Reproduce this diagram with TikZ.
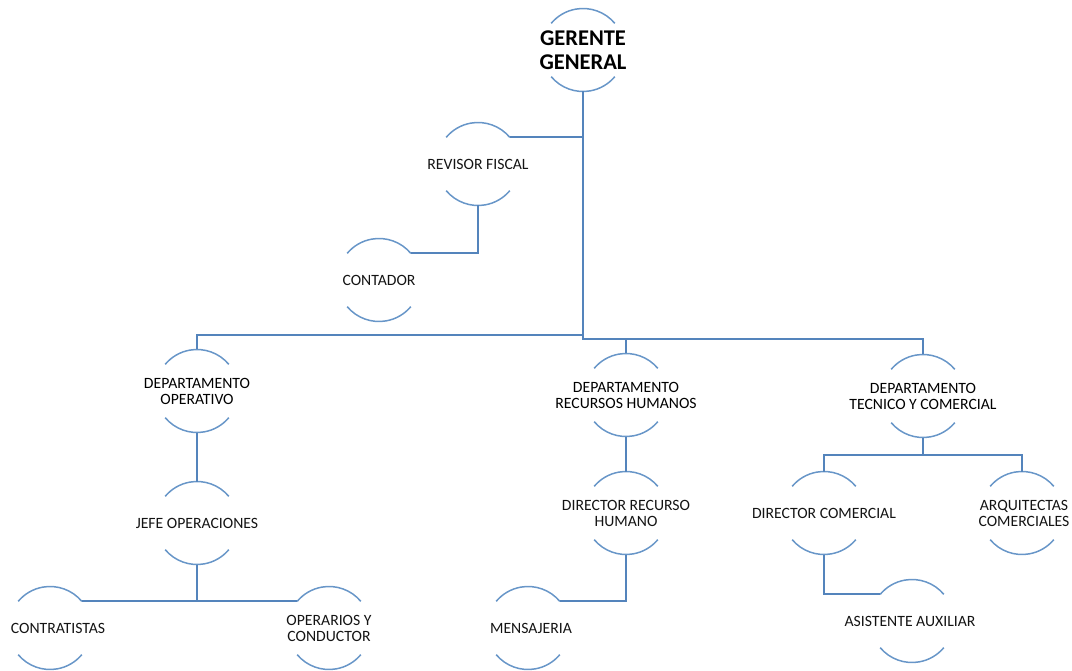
\documentclass[tikz,border=0pt]{standalone}
\usepackage{fontspec}
\setmainfont{Carlito}
\begin{document}
\begin{tikzpicture}[x=1pt,y=-1pt,
  unit/.style={circle, minimum size=83pt, inner sep=0pt, outer sep=0pt},
  txt/.style={align=center, inner sep=0pt, text=black!92, font=\fontsize{15.7}{16}\selectfont},
  dtxt/.style={txt, text=black},
  btxt/.style={align=center, inner sep=0pt, text=black, font=\fontsize{22.5}{24}\selectfont\bfseries},
  conn/.style={draw=conncol, line width=1.7pt},
  arcline/.style={draw=arccol, line width=1.5pt}]
\definecolor{conncol}{RGB}{84,132,188}
\definecolor{arccol}{RGB}{104,150,200}
\useasboundingbox (0,0) rectangle (1072,671);

\node[unit, label={[btxt]center:GERENTE\\GENERAL}] (gg) at (583,50) {};
\node[unit, label={[txt]center:REVISOR FISCAL}] (rf) at (478,164) {};
\node[unit, label={[txt]center:CONTADOR}] (ct) at (379,280) {};
\node[unit, label={[dtxt]center:DEPARTAMENTO\\OPERATIVO}] (dop) at (197,391) {};
\node[unit, label={[dtxt]center:DEPARTAMENTO\\RECURSOS HUMANOS}] (drh) at (626,395) {};
\node[unit, label={[dtxt]center:DEPARTAMENTO\\TECNICO Y COMERCIAL}] (dtc) at (923,396) {};
\node[unit, label={[txt]center:JEFE OPERACIONES}] (jo) at (197,523) {};
\node[unit, label={[txt,xshift=8pt]center:CONTRATISTAS}] (con) at (50,628) {};
\node[unit, label={[txt]center:OPERARIOS Y\\CONDUCTOR}] (opc) at (329,628) {};
\node[unit, label={[txt]center:DIRECTOR RECURSO\\HUMANO}] (dirrh) at (626,513) {};
\node[unit, label={[txt,xshift=3pt]center:MENSAJERIA}] (men) at (528,628) {};
\node[unit, label={[txt]center:DIRECTOR COMERCIAL}] (dc) at (824,513) {};
\node[unit, label={[txt,xshift=2pt]center:ARQUITECTAS\\COMERCIALES}] (arq) at (1022,513) {};
\node[unit, label={[txt,xshift=-2pt]center:ASISTENTE AUXILIAR}] (asis) at (912,621) {};

\foreach \n in {gg,rf,ct,dop,drh,dtc,jo,con,opc,dirrh,men,dc,arq,asis}{
  \draw[arcline] (\n.40) arc[start angle=40,end angle=140,radius=41.5pt];
  \draw[arcline] (\n.220) arc[start angle=220,end angle=320,radius=41.5pt];
}

\coordinate (busR) at (583,339);
\coordinate (busL) at (583,335);
\coordinate (tcbus) at (923,455);

\draw[conn] (gg.south) -- (busR) -| (dtc.north);
\draw[conn] (busL) -| (dop.north);
\draw[conn] (drh.north) -- (drh.north |- busR);
\draw[conn] (gg.south |- rf.40) -- (rf.40);
\draw[conn] (rf.south) |- (ct.40);
\draw[conn] (dop.south) -- (jo.north);
\draw[conn] (con.40) -- (opc.140);
\draw[conn] (jo.south) -- (jo.south |- con.40);
\draw[conn] (drh.south) -- (dirrh.north);
\draw[conn] (dirrh.south) |- (men.40);
\draw[conn] (dtc.south) -- (tcbus);
\draw[conn] (dc.north) |- (tcbus) -| (arq.north);
\draw[conn] (dc.south) |- (asis.140);
\end{tikzpicture}
\end{document}
